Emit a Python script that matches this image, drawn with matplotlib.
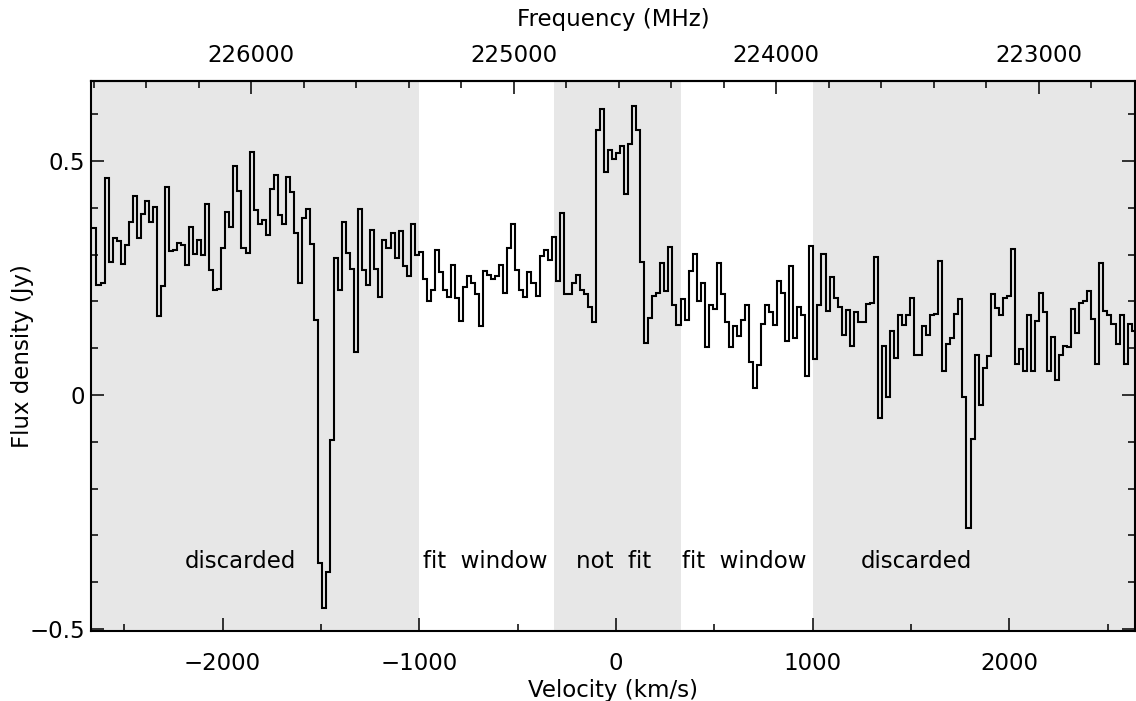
import matplotlib
matplotlib.use("Agg")
import matplotlib.pyplot as plt
from matplotlib.ticker import MultipleLocator, FuncFormatter
import numpy as np

# spectrum: channel edges in velocity, flux per channel (Jy)
v_start = -2661.5
chan_width = 20.48
flux = [
    0.357, 0.235, 0.240, 0.463, 0.285, 0.336, 0.329, 0.280, 0.321, 0.369,
    0.426, 0.336, 0.386, 0.415, 0.369, 0.402, 0.168, 0.233, 0.444, 0.308,
    0.309, 0.324, 0.321, 0.277, 0.360, 0.302, 0.331, 0.300, 0.408, 0.267,
    0.225, 0.227, 0.315, 0.392, 0.359, 0.489, 0.436, 0.315, 0.304, 0.520,
    0.395, 0.365, 0.375, 0.342, 0.440, 0.470, 0.385, 0.365, 0.465, 0.434,
    0.347, 0.239, 0.379, 0.397, 0.323, 0.160, -0.358, -0.454, -0.379, -0.095,
    0.293, 0.224, 0.370, 0.304, 0.269,
    0.092, 0.398, 0.267, 0.235, 0.352, 0.269, 0.210, 0.332, 0.315, 0.347,
    0.292, 0.350, 0.275, 0.254, 0.365, 0.300, 0.305, 0.247, 0.201, 0.224,
    0.309,
    0.263, 0.224, 0.210, 0.277, 0.208, 0.159, 0.231, 0.254, 0.240, 0.216,
    0.147, 0.264, 0.256, 0.247, 0.254, 0.277, 0.218, 0.315, 0.366, 0.267,
    0.224, 0.210, 0.262, 0.239, 0.211, 0.298, 0.310, 0.289, 0.338, 0.243,
    0.389, 0.216, 0.216, 0.240, 0.256, 0.224, 0.216, 0.188, 0.156, 0.566,
    0.611,
    0.477, 0.523, 0.505, 0.518, 0.531, 0.430, 0.537, 0.617, 0.567, 0.285,
    0.111, 0.164, 0.212, 0.218, 0.283, 0.222, 0.317, 0.193, 0.149, 0.205,
    0.161, 0.264, 0.302, 0.201, 0.239, 0.102, 0.193, 0.184, 0.283, 0.215,
    0.156, 0.102, 0.147, 0.126, 0.161, 0.193, 0.071, 0.016, 0.065, 0.151,
    0.192, 0.178, 0.149, 0.243,
    0.218, 0.115, 0.275, 0.121, 0.188, 0.170, 0.040, 0.319, 0.076, 0.192,
    0.302, 0.179, 0.253, 0.208, 0.189, 0.128, 0.182, 0.105, 0.178, 0.155,
    0.156, 0.195, 0.197, 0.294, -0.050, 0.105, -0.004, 0.136, 0.080, 0.170,
    0.150, 0.170, 0.207, 0.085, 0.086, 0.147, 0.128, 0.172, 0.174, 0.286,
    0.052, 0.109,
    0.121, 0.174, 0.205, -0.004, -0.284, -0.093, 0.086, -0.021, 0.057, 0.084,
    0.216, 0.185, 0.170, 0.207, 0.211, 0.311, 0.067, 0.098, 0.052, 0.170,
    0.052, 0.159, 0.218, 0.178, 0.052, 0.124, 0.033, 0.086, 0.105, 0.103,
    0.183, 0.132, 0.197, 0.201, 0.222, 0.163, 0.066, 0.283, 0.179, 0.170,
    0.151, 0.109, 0.172, 0.067, 0.151, 0.136,
]

# shaded / unshaded velocity windows
region_edges = [-2669, -1000, -315, 330, 1000, 2640]
region_shaded = [True, False, True, False, True]
region_labels = ["discarded", "fit  window", "not  fit", "fit  window", "discarded"]
label_x = [-1907, -666, -11, 655, 1529]
label_y = -0.355

# frequency axis (radio convention)
C_KMS = 299792.458
F_REF = 224610.0  # MHz at v = 0
freq_ticks = [223000, 224000, 225000, 226000]


def v2f(v):
    return F_REF * (1.0 - np.asarray(v, dtype=float) / C_KMS)


def f2v(f):
    return C_KMS * (1.0 - np.asarray(f, dtype=float) / F_REF)


fs = 16.5
fig = plt.figure(figsize=(11.36, 7.01), dpi=100)
ax = fig.add_axes([0.0801, 0.0999, 0.9191, 0.7846])

for i in range(len(region_shaded)):
    if region_shaded[i]:
        ax.axvspan(region_edges[i], region_edges[i + 1], color="#e7e7e7", lw=0, zorder=0)

edges = v_start + chan_width * np.arange(len(flux) + 1)
ax.stairs(flux, edges, baseline=None, color="black", lw=1.5, zorder=2)

for x, s in zip(label_x, region_labels):
    ax.text(x, label_y, s, ha="center", va="center", fontsize=fs)

ax.set_xlim(region_edges[0], region_edges[-1])
ax.set_ylim(-0.504, 0.671)

ax.set_xticks([-2000, -1000, 0, 1000, 2000])
ax.xaxis.set_minor_locator(MultipleLocator(500))
ax.set_yticks([-0.5, 0, 0.5])
ax.set_yticklabels(["\u22120.5", "0", "0.5"])
ax.yaxis.set_minor_locator(MultipleLocator(0.1))

ax.tick_params(which="both", direction="in", top=False, right=True, width=1.1)
ax.tick_params(which="major", length=9.5)
ax.tick_params(which="minor", length=5)
ax.tick_params(axis="x", labelsize=fs, pad=15)
ax.tick_params(axis="y", labelsize=fs, pad=4)
for sp in ax.spines.values():
    sp.set_linewidth(1.5)

ax.set_xlabel("Velocity (km/s)", fontsize=fs)
ax.xaxis.set_label_coords(0.5, -0.087)
ax.set_ylabel("Flux density (Jy)", fontsize=fs)
ax.yaxis.set_label_coords(-0.0546, 0.5)

secax = ax.secondary_xaxis("top", functions=(v2f, f2v))
secax.set_xticks(freq_ticks)
secax.xaxis.set_minor_locator(MultipleLocator(200))
secax.xaxis.set_major_formatter(FuncFormatter(lambda x, _: f"{x:.0f}"))
secax.tick_params(which="both", direction="in", width=1.1, labelsize=fs, pad=10)
secax.tick_params(which="major", length=9.5)
secax.tick_params(which="minor", length=5)
secax.spines["top"].set_linewidth(1.5)
secax.set_xlabel("Frequency (MHz)", fontsize=fs, labelpad=13)

fig.savefig("out.png", dpi=100)
